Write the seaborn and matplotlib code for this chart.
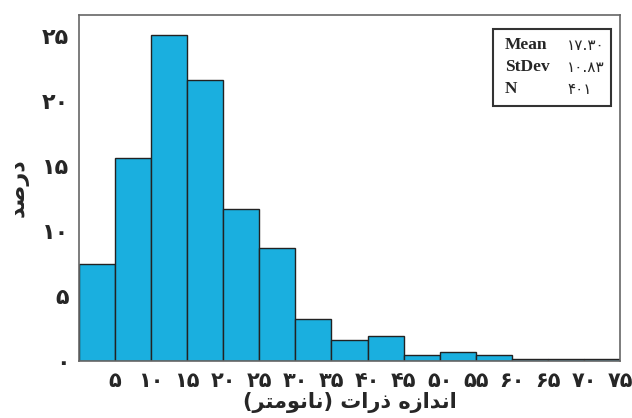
import matplotlib
matplotlib.use("Agg")
import matplotlib.pyplot as plt
import seaborn as sns
import numpy as np

# Data (percent per 5 nm bin)
bin_edges = [0, 5, 10, 15, 20, 25, 30, 35, 40, 45, 50, 55, 60, 65, 70, 75]
percent = [7.45, 15.6, 25.1, 21.6, 11.7, 8.7, 3.2, 1.6, 1.9, 0.45, 0.72, 0.46, 0.18, 0.18, 0.18]
x_ticks = [5, 10, 15, 20, 25, 30, 35, 40, 45, 50, 55, 60, 65, 70, 75]
y_ticks = [0, 5, 10, 15, 20, 25]
stats_names = ["Mean", "StDev", "N"]
stats_values = ["۱۷.۳۰", "۱۰.۸۳", "۴۰۱"]

# Visual-order presentation forms for RTL Persian text
y_label = "\uFEAA\uFEBB\uFEAD\uFEA9"  # درصد
x_label = ("(" + "\uFEAE\uFE98\uFEE3\uFEEE\uFEE7\uFE8E\uFEE7" + ")" + " "
           + "\uFE95\uFE8D\uFEAD\uFEAB" + " "
           + "\uFEE9\uFEAF\uFE8D\uFEAA\uFEE7\uFE8D")  # اندازه ذرات (نانومتر)

def fa(n):
    return str(n).translate(str.maketrans("0123456789", "۰۱۲۳۴۵۶۷۸۹"))

sns.set_style("white")
plt.rcParams['font.family'] = ['DejaVu Sans']

centers = [(a + b) / 2 for a, b in zip(bin_edges[:-1], bin_edges[1:])]

fig = plt.figure(figsize=(6.32, 4.18), dpi=100)
ax = fig.add_axes([0.125, 0.1364, 0.856, 0.8277])
sns.histplot(x=centers, weights=percent, bins=bin_edges, ax=ax,
             color="#1AAFDF", edgecolor="#222222", linewidth=1.0, alpha=1.0)

ax.set_xlim(0, 75)
ax.set_ylim(0, 26.6)
ax.set_xticks(x_ticks)
ax.set_xticklabels([fa(t) for t in x_ticks], fontsize=15, fontweight="bold")
ax.set_yticks(y_ticks)
ax.set_yticklabels([fa(t) for t in y_ticks], fontsize=16, fontweight="bold")
ax.tick_params(axis="both", direction="out", length=5, width=1, color="#555555", pad=2)
for s in ax.spines.values():
    s.set_color("#666666")
    s.set_linewidth(1.2)

ax.set_xlabel(x_label, fontsize=15, fontweight="bold", labelpad=1)
ax.set_ylabel(y_label, fontsize=16, fontweight="bold", labelpad=10)

# stats box
from matplotlib.patches import Rectangle
bx0, by0, bw, bh = 493 / 632, 1 - 106 / 418, 118 / 632, 77 / 418
fig.patches.append(Rectangle((bx0, by0), bw, bh, transform=fig.transFigure,
                             fill=False, edgecolor="#333333", linewidth=1.5))
for i, (n, v) in enumerate(zip(stats_names, stats_values)):
    yy = 1 - (45 + i * 22) / 418
    fig.text(505 / 632, yy, n, fontsize=12.5, fontweight="bold",
             family=["Liberation Serif", "DejaVu Sans"], va="center", ha="left")
    fig.text(567 / 632, yy, v, fontsize=11,
             family=["DejaVu Sans"], va="center", ha="left")

fig.savefig("out.png", dpi=100)
